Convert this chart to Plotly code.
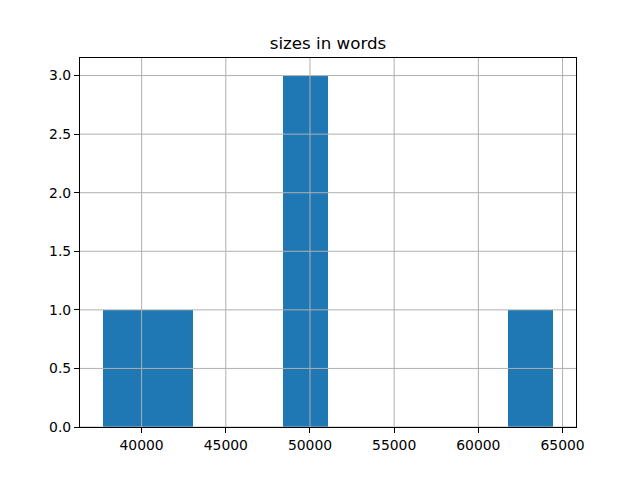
import numpy as np
import plotly.graph_objects as go

# raw values (word counts)
sizes = [37680, 41900, 49300, 49800, 50600, 64460]
n_bins = 10
title_text = "sizes in words"
x_ticks = [40000, 45000, 50000, 55000, 60000, 65000]
y_ticks = [0.0, 0.5, 1.0, 1.5, 2.0, 2.5, 3.0]
bar_color = "#1f77b4"
grid_color = "#b0b0b0"

counts, edges = np.histogram(sizes, bins=n_bins)
centers = (edges[:-1] + edges[1:]) / 2
width = edges[1] - edges[0]

fig = go.Figure()
fig.add_trace(go.Bar(x=centers, y=counts, width=width,
                     marker=dict(color=bar_color, line=dict(width=0))))

xmin, xmax = min(sizes), max(sizes)
pad = 0.05 * (xmax - xmin)
ymax = counts.max() * 1.05

shapes = []
for t in x_ticks:
    shapes.append(dict(type="line", xref="x", yref="paper", x0=t, x1=t, y0=0, y1=1,
                       line=dict(color=grid_color, width=1), layer="above"))
for t in y_ticks:
    shapes.append(dict(type="line", xref="paper", yref="y", x0=0, x1=1, y0=t, y1=t,
                       line=dict(color=grid_color, width=1), layer="above"))

# page body has an 8px default margin, so offsets compensate for it
font = dict(family="DejaVu Sans", size=13.9, color="black")
fig.update_layout(
    width=640, height=480,
    margin=dict(l=72, r=72, t=49.6, b=60.8),
    paper_bgcolor="white", plot_bgcolor="white",
    font=font,
    showlegend=False,
    bargap=0,
    shapes=shapes,
    title=dict(text=title_text, x=0.5, xanchor="center",
               y=1 - 35 / 480, yanchor="middle", yref="container",
               font=dict(family="DejaVu Sans", size=16.7, color="black")),
)
fig.update_xaxes(range=[xmin - pad, xmax + pad], tickvals=x_ticks,
                 ticktext=[str(t) for t in x_ticks],
                 showgrid=False, zeroline=False, showline=True, mirror=True,
                 linecolor="black", linewidth=1.1, ticks="outside", ticklen=5,
                 tickwidth=1.1, tickcolor="black", layer="above traces")
fig.update_yaxes(range=[0, ymax], tickvals=y_ticks,
                 ticktext=[f"{t:.1f}" for t in y_ticks],
                 showgrid=False, zeroline=False, showline=True, mirror=True,
                 linecolor="black", linewidth=1.1, ticks="outside", ticklen=5,
                 tickwidth=1.1, tickcolor="black", layer="above traces")

fig.write_html("out.html")
